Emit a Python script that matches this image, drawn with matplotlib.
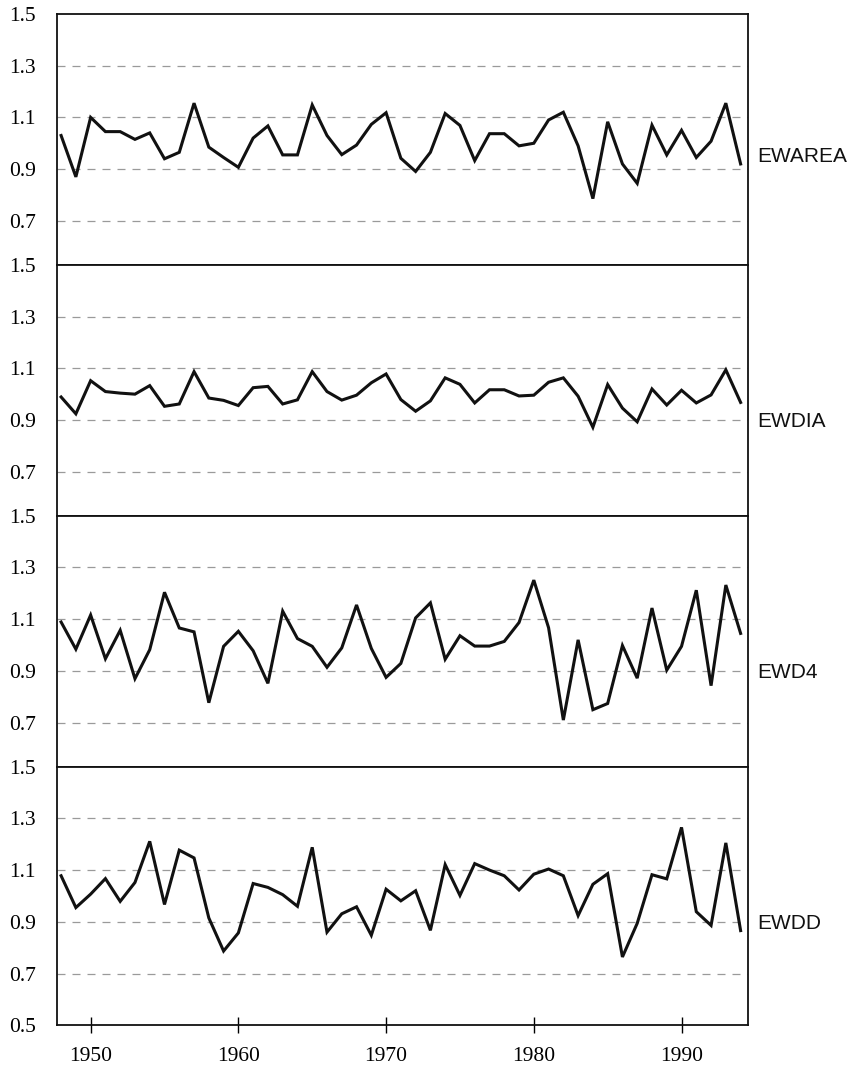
import numpy as np
import matplotlib
matplotlib.use("Agg")
import matplotlib.pyplot as plt

# annual indices, 1948-1994
years = np.arange(1948, 1995)

ewarea = [1.03, 0.87, 1.10, 1.045, 1.045, 1.015, 1.04, 0.94, 0.965, 1.155,
          0.985, 0.945, 0.907, 1.02, 1.067, 0.955, 0.955, 1.148, 1.03, 0.956,
          0.993, 1.073, 1.118, 0.942, 0.891, 0.965, 1.115, 1.069, 0.933, 1.037,
          1.037, 0.99, 1.0, 1.09, 1.12, 0.99, 0.786, 1.083, 0.92, 0.845,
          1.07, 0.955, 1.05, 0.945, 1.008, 1.155, 0.92]

ewdia = [0.989, 0.924, 1.052, 1.01, 1.004, 1.0, 1.033, 0.953, 0.962, 1.087,
         0.985, 0.976, 0.956, 1.025, 1.03, 0.962, 0.978, 1.087, 1.01, 0.977,
         0.996, 1.044, 1.078, 0.979, 0.934, 0.974, 1.063, 1.038, 0.966, 1.017,
         1.017, 0.993, 0.996, 1.046, 1.063, 0.992, 0.872, 1.037, 0.946, 0.893,
         1.02, 0.958, 1.015, 0.966, 0.997, 1.094, 0.968]

ewd4 = [1.089, 0.984, 1.116, 0.947, 1.057, 0.87, 0.982, 1.204, 1.066, 1.051,
        0.777, 0.995, 1.053, 0.978, 0.852, 1.131, 1.025, 0.995, 0.914, 0.989,
        1.155, 0.987, 0.875, 0.929, 1.105, 1.163, 0.945, 1.036, 0.996, 0.996,
        1.014, 1.087, 1.251, 1.067, 0.71, 1.02, 0.75, 0.774, 0.998, 0.872,
        1.143, 0.903, 0.995, 1.212, 0.843, 1.232, 1.045]

ewdd = [1.078, 0.955, 1.007, 1.067, 0.979, 1.052, 1.211, 0.967, 1.177, 1.147,
        0.915, 0.787, 0.857, 1.048, 1.033, 1.005, 0.96, 1.188, 0.86, 0.931,
        0.958, 0.848, 1.026, 0.981, 1.02, 0.867, 1.121, 1.002, 1.125, 1.1,
        1.078, 1.023, 1.084, 1.104, 1.078, 0.924, 1.045, 1.086, 0.764, 0.894,
        1.082, 1.066, 1.265, 0.939, 0.886, 1.205, 0.866]

names = ['EWAREA', 'EWDIA', 'EWD4', 'EWDD']
series = [ewarea, ewdia, ewd4, ewdd]
name_y = [0.95, 0.895, 0.895, 0.895]
grid_levels = [0.7, 0.9, 1.1, 1.3]
year_ticks = [1950, 1960, 1970, 1980, 1990]

serif = 'Liberation Serif'
sans = 'Liberation Sans'

fig = plt.figure(figsize=(8.56, 10.72), dpi=100)

ylows = [0.53, 0.53, 0.53, 0.5]
gs = fig.add_gridspec(4, 1, height_ratios=[1.5 - lo for lo in ylows], hspace=0,
                      left=0.0662, right=0.874, top=0.987, bottom=0.0436)

for i, (name, vals) in enumerate(zip(names, series)):
    ax = fig.add_subplot(gs[i])
    for g in grid_levels:
        ax.axhline(g, color='#9a9a9a', lw=0.9, linestyle=(0, (6.4, 5.6)), zorder=1)
    ax.plot(years, vals, color='#111111', lw=2.2, zorder=3, solid_joinstyle='miter')

    ax.set_xlim(1947.7, 1994.51)
    ax.set_ylim(ylows[i], 1.5)

    if i == 3:
        yt = [0.5] + grid_levels + [1.5]
    else:
        yt = grid_levels + [1.5]
    ax.set_yticks(yt)
    ax.set_yticklabels([f'{v:.1f}' for v in yt], fontfamily=serif, fontsize=15.5)
    ax.tick_params(axis='y', length=0, pad=15)

    if i == 3:
        ax.set_xticks(year_ticks)
        ax.set_xticklabels([str(y) for y in year_ticks], fontfamily=serif, fontsize=15.5)
        ax.tick_params(axis='x', direction='inout', length=12, width=1.0, pad=10)
    else:
        ax.set_xticks([])

    for sp in ax.spines.values():
        sp.set_linewidth(1.3)
        sp.set_color('#111111')

    ax.text(1.013, name_y[i], name, transform=ax.get_yaxis_transform(),
            ha='left', va='center', fontfamily=sans, fontsize=15, color='#111111')

fig.savefig('out.png', dpi=100)
